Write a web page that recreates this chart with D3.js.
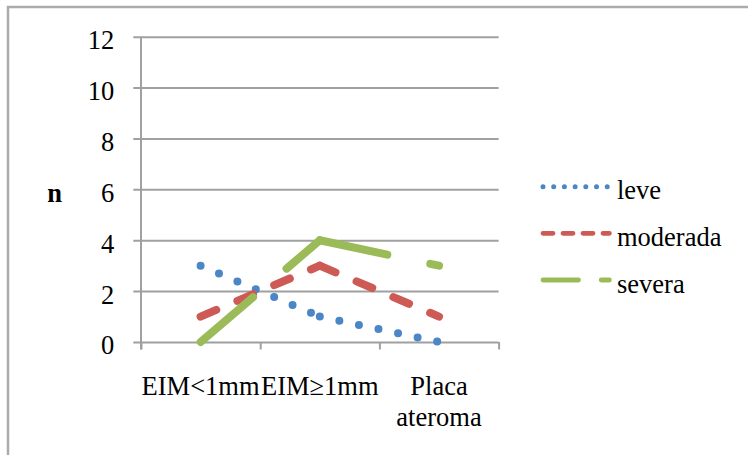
<!DOCTYPE html>
<html>
<head>
<meta charset="utf-8">
<script src="https://cdn.jsdelivr.net/npm/d3@7"></script>
<style>
  html, body { margin: 0; padding: 0; background: #fff; }
  svg { display: block; }
</style>
</head>
<body>
<svg id="chart" width="748" height="455"></svg>
<script>
// Categories and series counts
const categories = ["EIM<1mm", "EIM≥1mm", "Placa ateroma"];
const leve = [3, 1, 0];
const moderada = [1, 3, 1];
const severa = [0, 4, 3];
const seriesNames = ["leve", "moderada", "severa"];
const yTicks = [0, 2, 4, 6, 8, 10, 12];

const series = [
  { name: seriesNames[0], values: leve,     color: "#4b86c6", dash: "0 20",  legendDash: "0 10.7", width: 8, legendWidth: 5 },
  { name: seriesNames[1], values: moderada, color: "#cd5a55", dash: "17 23", legendDash: "10 10",  width: 8, legendWidth: 4.8 },
  { name: seriesNames[2], values: severa,   color: "#9bbb59", dash: "69 44", legendDash: "35.5 22.75", width: 8, legendWidth: 4.8 }
];

const FONT_FAMILY = "'Liberation Serif', 'Times New Roman', serif";
const FONT = "26.5px";

const svg = d3.select("#chart");
const plotLeft = 141, plotRight = 498.6, plotTop = 36.7, plotBottom = 342;

// Outer frame (top and left edges visible)
svg.append("path")
  .attr("d", `M8,455 L8,7 L748,7`)
  .attr("fill", "none")
  .attr("stroke", "#ababab")
  .attr("stroke-width", 2.5);

const x = d3.scaleBand().domain(categories).range([plotLeft, plotRight]);
const xEdge = d3.scaleLinear().domain([0, categories.length]).range([plotLeft, plotRight]);
const y = d3.scaleLinear().domain([0, 12]).range([plotBottom, plotTop]);

function styleText(sel) {
  return sel.style("font-family", FONT_FAMILY).style("font-size", FONT).style("fill", "#000");
}

// Horizontal gridlines + y tick labels
const yAxis = svg.append("g")
  .attr("transform", `translate(${plotRight},0)`)
  .call(d3.axisLeft(y).tickValues(yTicks).tickSize(plotRight - 133.3).tickPadding(19).tickFormat(d3.format("d")));
yAxis.select(".domain").remove();
yAxis.selectAll(".tick line").attr("stroke", "#a0a0a0").attr("stroke-width", 2);
styleText(yAxis.selectAll(".tick text")).attr("dy", "0.45em");

// Category boundary ticks
const xAxis = svg.append("g")
  .attr("transform", `translate(0,${plotBottom})`)
  .call(d3.axisBottom(xEdge).tickValues(d3.range(categories.length + 1)).tickSize(7.5).tickFormat(""));
xAxis.select(".domain").remove();
xAxis.selectAll(".tick line").attr("stroke", "#a0a0a0").attr("stroke-width", 2);

// Vertical axis line
svg.append("line")
  .attr("x1", plotLeft).attr("x2", plotLeft)
  .attr("y1", plotTop).attr("y2", plotBottom + 7.5)
  .attr("stroke", "#a0a0a0").attr("stroke-width", 2);

// Category labels (wrapped onto lines)
categories.forEach(c => {
  const words = c.split(" ");
  const t = styleText(svg.append("text"))
    .attr("text-anchor", "middle")
    .attr("x", x(c) + x.bandwidth() / 2)
    .attr("y", 394.5);
  words.forEach((w, i) => {
    t.append("tspan")
      .attr("x", x(c) + x.bandwidth() / 2)
      .attr("dy", i === 0 ? 0 : 31)
      .text(w);
  });
});

// Y axis title
styleText(svg.append("text"))
  .attr("x", 54.5).attr("y", 201.5)
  .attr("text-anchor", "middle")
  .style("font-weight", "bold")
  .text("n");

// Series lines: each segment drawn separately so the dash pattern restarts at every point
const line = d3.line()
  .x(d => x(d.c) + x.bandwidth() / 2)
  .y(d => y(d.v));

series.forEach(s => {
  const pts = s.values.map((v, i) => ({ c: categories[i], v }));
  const g = svg.append("g");
  for (let i = 0; i < pts.length - 1; i++) {
    g.append("path")
      .attr("d", line([pts[i], pts[i + 1]]))
      .attr("fill", "none")
      .attr("stroke", s.color)
      .attr("stroke-width", s.width)
      .attr("stroke-linecap", "round")
      .attr("stroke-dasharray", s.dash);
  }
});

// Legend
const legendY = d3.scalePoint().domain(seriesNames).range([186.7, 280]);
series.forEach(s => {
  const ly = legendY(s.name);
  svg.append("line")
    .attr("x1", 543).attr("x2", 609.4)
    .attr("y1", ly).attr("y2", ly)
    .attr("stroke", s.color)
    .attr("stroke-width", s.legendWidth)
    .attr("stroke-linecap", "round")
    .attr("stroke-dasharray", s.legendDash);
  styleText(svg.append("text"))
    .attr("x", 617).attr("y", ly + 12.5)
    .text(s.name);
});
</script>
</body>
</html>
